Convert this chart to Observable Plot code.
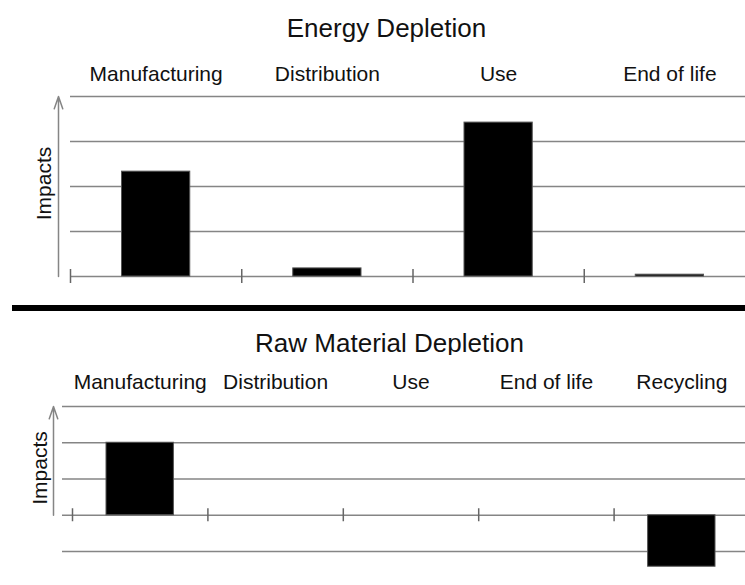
<!DOCTYPE html>
<html>
<head>
<meta charset="utf-8">
<script src="https://cdn.jsdelivr.net/npm/d3@7"></script>
<script src="https://cdn.jsdelivr.net/npm/@observablehq/plot@0.6"></script>
<style>
  html, body { margin: 0; padding: 0; background: #fff; }
  #wrap { position: relative; width: 745px; height: 585px; overflow: hidden; font-family: "Liberation Sans", Arial, sans-serif; color: #111; }
  .title { position: absolute; width: 745px; text-align: center; font-size: 26px; line-height: 26px; white-space: nowrap; }
  #sep { position: absolute; left: 12px; top: 305px; width: 733px; height: 6px; background: #000; }
  .panel { position: absolute; left: 0; }
</style>
</head>
<body>
<div id="wrap">
  <div class="title" id="t1" style="left:14px; top:15px;"></div>
  <div class="panel" id="p1" style="top:45px;"></div>
  <div id="sep"></div>
  <div class="title" id="t2" style="left:17px; top:330px;"></div>
  <div class="panel" id="p2" style="top:355px;"></div>
</div>
<script>
// ---- Data ----
const energyTitle = "Energy Depletion";
const energyCategories = ["Manufacturing", "Distribution", "Use", "End of life"];
const energyValues = [2.33, 0.18, 3.42, 0.04];
const energyGrid = [0, 1, 2, 3, 4];

const rawTitle = "Raw Material Depletion";
const rawCategories = ["Manufacturing", "Distribution", "Use", "End of life", "Recycling"];
const rawValues = [2.0, 0, 0, 0, -1.42];
const rawGrid = [-1, 0, 1, 2, 3];

const axisLabel = "Impacts";

// ---- Styles ----
const gridColor = "#858585";
const font = "Liberation Sans, Arial, sans-serif";

function panel({categories, values, grid, width, height, marginTop, marginBottom, marginLeft, xRange, barInset, labelDy, arrowDx, tickHalf, impactsDx, impactsDy}) {
  const table = categories.map((c, i) => ({cat: c, i, v: values[i]}));
  const bounds = d3.range(categories.length + 1);
  const yMin = d3.min(grid), yMax = d3.max(grid);
  return Plot.plot({
    width, height, marginTop, marginBottom, marginLeft, marginRight: 0,
    style: {fontFamily: font, fontSize: "21px", color: "#111", background: "white"},
    x: {domain: [0, categories.length], range: xRange, axis: null},
    y: {domain: [yMin, yMax], axis: null},
    marks: [
      Plot.ruleY(grid, {stroke: gridColor, strokeWidth: 1.5}),
      Plot.ruleX(bounds, {x: d => d, y1: 0, y2: 0, insetTop: -tickHalf, insetBottom: -tickHalf, stroke: "#666", strokeWidth: 1.5}),
      Plot.rectY(table.filter(d => d.v !== 0), {x: "i", interval: 1, y: "v", insetLeft: barInset, insetRight: barInset, fill: "#000", stroke: "#555", strokeWidth: 1}),
      Plot.arrow([0], {x1: 0, x2: 0, y1: 0, y2: yMax, dx: arrowDx, stroke: gridColor, strokeWidth: 1.5, headLength: 13, headAngle: 38}),
      Plot.text(table, {x: d => d.i + 0.5, text: "cat", frameAnchor: "top", lineAnchor: "bottom", dy: labelDy, fill: "#111", fontSize: 21}),
      Plot.text([axisLabel], {text: d => d, frameAnchor: "left", textAnchor: "middle", lineAnchor: "middle", rotate: -90, dx: impactsDx, dy: impactsDy, fill: "#111", fontSize: 21})
    ]
  });
}

document.getElementById("t1").textContent = energyTitle;
document.getElementById("t2").textContent = rawTitle;

document.getElementById("p1").appendChild(panel({
  categories: energyCategories, values: energyValues, grid: energyGrid,
  width: 745, height: 250, marginTop: 51, marginBottom: 19, marginLeft: 70,
  xRange: [70, 755], barInset: 51.5, labelDy: -16, arrowDx: -12, tickHalf: 7,
  impactsDx: -26, impactsDy: -3
}));

document.getElementById("p2").appendChild(panel({
  categories: rawCategories, values: rawValues, grid: rawGrid,
  width: 745, height: 230, marginTop: 51, marginBottom: 34, marginLeft: 62,
  xRange: [72, 749], barInset: 34, labelDy: -18, arrowDx: -19, tickHalf: 6.5,
  impactsDx: -22, impactsDy: -11
}));
</script>
</body>
</html>
